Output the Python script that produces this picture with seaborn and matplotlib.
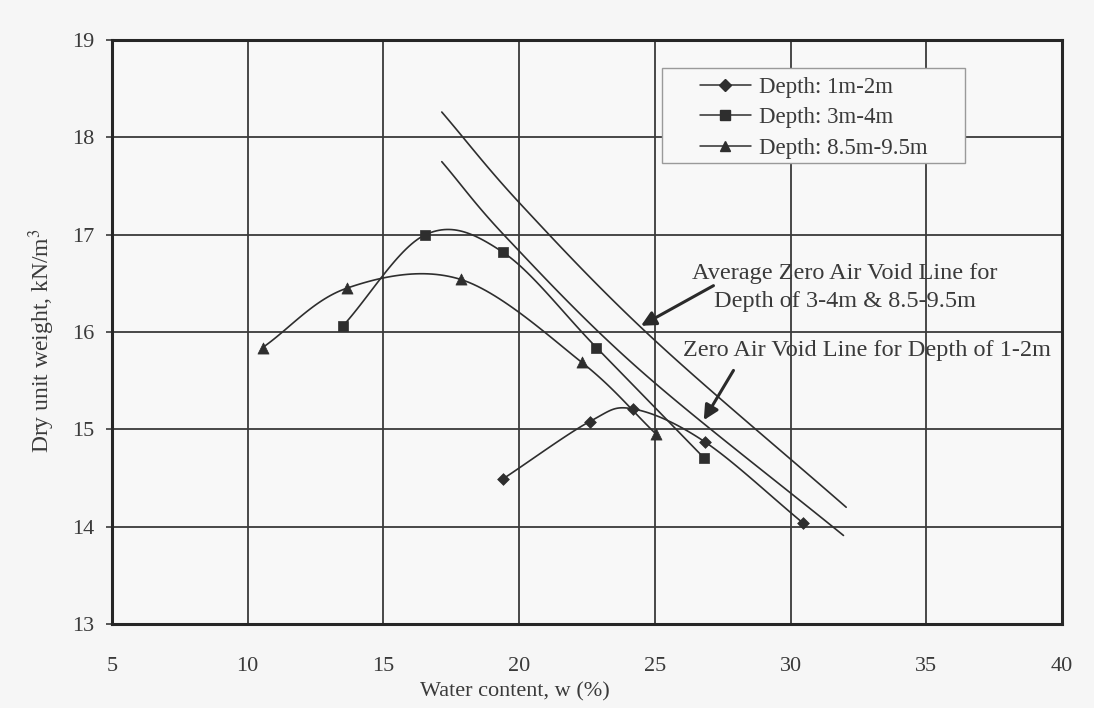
import numpy as np
import pandas as pd
import matplotlib
matplotlib.use("Agg")
import matplotlib.pyplot as plt
from matplotlib.lines import Line2D
from matplotlib.patches import Rectangle
import seaborn as sns

# ---- data ----
d12_w = [19.4, 22.6, 24.2, 26.85, 30.45]
d12_g = [14.49, 15.08, 15.21, 14.87, 14.04]

d34_w = [13.5, 16.55, 19.4, 22.85, 26.8]
d34_g = [16.06, 17.00, 16.82, 15.84, 14.71]

d895_w = [10.55, 13.65, 17.85, 22.3, 25.05]
d895_g = [15.84, 16.45, 16.54, 15.69, 14.95]

zav_avg_w = [17.15, 20.1, 24.9, 32.05]
zav_avg_g = [18.26, 17.30, 15.94, 14.20]

zav_12_w = [17.15, 19.6, 24.45, 31.95]
zav_12_g = [17.75, 16.95, 15.61, 13.91]

series_names = ["Depth: 1m-2m", "Depth: 3m-4m", "Depth: 8.5m-9.5m"]
x_ticks = [5, 10, 15, 20, 25, 30, 35, 40]
y_ticks = [13, 14, 15, 16, 17, 18, 19]


def smooth(xs, ys, n=30):
    """Catmull-Rom style smoothing of a polyline (drawing style only)."""
    p = np.column_stack([xs, ys]).astype(float)
    ext = np.vstack([2 * p[0] - p[1], p, 2 * p[-1] - p[-2]])
    out = []
    for i in range(1, len(ext) - 2):
        p0, p1, p2, p3 = ext[i - 1], ext[i], ext[i + 1], ext[i + 2]
        t = np.linspace(0, 1, n)[:, None]
        seg = 0.5 * ((2 * p1) + (-p0 + p2) * t + (2 * p0 - 5 * p1 + 4 * p2 - p3) * t ** 2
                     + (-p0 + 3 * p1 - 3 * p2 + p3) * t ** 3)
        out.append(seg if i == 1 else seg[1:])
    c = np.vstack(out)
    return c[:, 0], c[:, 1]


sns.set_theme(style="white")
plt.rcParams["font.family"] = ["Liberation Serif", "DejaVu Serif"]
plt.rcParams["mathtext.fontset"] = "stix"

fig = plt.figure(figsize=(10.94, 7.08), dpi=100, facecolor="#f6f6f6")
ax = fig.add_axes([0.1024, 0.1186, 0.8683, 0.8249])
ax.set_facecolor("#f8f8f8")

ink = "#2e2e2e"
txt = "#3a3a3a"
markers = ["D", "s", "^"]
msizes = [6, 7, 8]
data = [(d12_w, d12_g), (d34_w, d34_g), (d895_w, d895_g)]

for (w, g), m, ms, name in zip(data, markers, msizes, series_names):
    sx, sy = smooth(w, g)
    ax.plot(sx, sy, color=ink, lw=1.2, zorder=3)
    df = pd.DataFrame({"w": w, "g": g})
    sns.scatterplot(data=df, x="w", y="g", marker=m, s=ms ** 2, color=ink,
                    edgecolor=ink, linewidth=0.5, ax=ax, zorder=4, legend=False)

for w, g in [(zav_avg_w, zav_avg_g), (zav_12_w, zav_12_g)]:
    sx, sy = smooth(w, g)
    ax.plot(sx, sy, color=ink, lw=1.2, zorder=3)

ax.set_xlim(5, 40)
ax.set_ylim(13, 19)
ax.set_xticks(x_ticks)
ax.set_yticks(y_ticks)
ax.grid(True, color="#3a3a3a", lw=1.3, zorder=1)
ax.set_axisbelow(True)
for s in ax.spines.values():
    s.set_color("#262626")
    s.set_linewidth(2.2)

ax.tick_params(axis="y", which="major", left=True, length=4, width=1.2,
               color="#3a3a3a", pad=9, labelsize=16, labelcolor=txt)
ax.tick_params(axis="x", which="major", bottom=False, pad=18, labelsize=16,
               labelcolor=txt)
ax.set_xlabel("Water content, w (%)", fontsize=16, color=txt)
ax.xaxis.set_label_coords(0.424, -0.100)
ax.set_ylabel("Dry unit weight, kN/m$^3$", fontsize=17, color=txt)
ax.yaxis.set_label_coords(-0.058, 0.486)

# legend box + entries
ax.add_patch(Rectangle((0.579, 0.789), 0.319, 0.163, transform=ax.transAxes,
                       facecolor="#f8f8f8", edgecolor="#9a9a9a", lw=1.0,
                       zorder=5))
handles = [Line2D([0], [0], color=ink, lw=1.1, marker=m, markersize=ms,
                  markerfacecolor=ink, markeredgecolor=ink)
           for m, ms in zip(markers, [6, 6.5, 7.5])]
leg = ax.legend(handles, series_names, loc="upper left",
                bbox_to_anchor=(0.6095, 0.952), borderaxespad=0,
                fontsize=16.5, frameon=False, handlelength=2.2,
                labelspacing=0.4, borderpad=0.4, handletextpad=0.35)
leg.set_zorder(6)
for t in leg.get_texts():
    t.set_color(txt)

ax.text(32.0, 16.46, "Average Zero Air Void Line for\nDepth of 3-4m & 8.5-9.5m",
        ha="center", va="center", fontsize=17.5, color=txt,
        linespacing=1.42, zorder=5)
ax.text(32.8, 15.815, "Zero Air Void Line for Depth of 1-2m", ha="center",
        va="center", fontsize=17.5, color=txt, zorder=5)

ax.annotate("", xy=(24.4, 16.05), xytext=(27.25, 16.49),
            arrowprops=dict(arrowstyle="-|>", color="#2a2a2a", lw=2.2,
                            mutation_scale=22), zorder=5)
ax.annotate("", xy=(26.75, 15.07), xytext=(27.95, 15.63),
            arrowprops=dict(arrowstyle="-|>", color="#2a2a2a", lw=2.2,
                            mutation_scale=22), zorder=5)

fig.savefig("out.png", dpi=100, facecolor=fig.get_facecolor())
